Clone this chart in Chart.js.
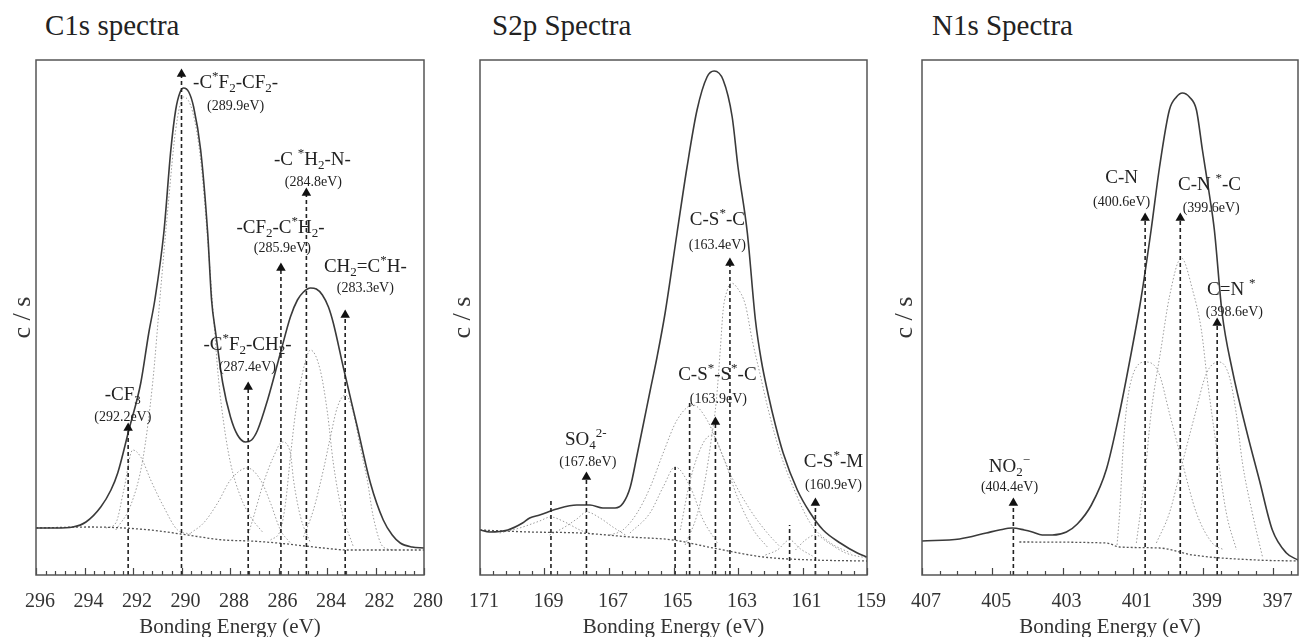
<!DOCTYPE html>
<html>
<head>
<meta charset="utf-8">
<script src="https://cdn.jsdelivr.net/npm/chart.js@4.4.1/dist/chart.umd.min.js"></script>
<style>
  html, body { margin: 0; padding: 0; background: #fff; overflow: hidden; }
  #wrap { position: relative; width: 1299px; height: 637px; overflow: hidden; }
  canvas { position: absolute; top: 0; }
  .ttl { position: absolute; top: 9px; font: 29px "Liberation Serif", serif; color: #222; line-height: 32px; white-space: nowrap; }
</style>
</head>
<body>
<div id="wrap">
  <div class="ttl" style="left:45px">C1s spectra</div>
  <div class="ttl" style="left:492px">S2p Spectra</div>
  <div class="ttl" style="left:932px">N1s Spectra</div>
  <canvas id="c1s" width="460" height="640" style="left:0"></canvas>
  <canvas id="s2p" width="460" height="640" style="left:440px"></canvas>
  <canvas id="n1s" width="429" height="640" style="left:870px"></canvas>
</div>
<script>
// ---------- C1s ----------
const c1sTicks = [296, 294, 292, 290, 288, 286, 284, 282, 280];
const c1sEnvelope = [[296.0,47],[295.18,47],[294.48,48],[293.94,53],[293.33,68],[292.91,85],[292.63,102],[292.17,145],[291.68,192],[291.35,242],[291.10,275],[290.73,342],[290.44,425],[290.24,465],[290.07,482],[289.91,487],[289.70,483],[289.50,468],[289.21,425],[288.92,342],[288.76,275],[288.59,242],[288.30,192],[287.98,158],[287.69,140],[287.36,133],[287.11,135],[286.86,145],[286.45,175],[285.92,222],[285.51,258],[285.22,275],[284.97,283],[284.68,287],[284.44,286],[284.19,280],[283.94,268],[283.74,252],[283.33,208],[282.75,148],[282.21,92],[281.68,55],[281.31,40],[280.98,32],[280.49,28],[280.0,27]];
const c1sBackground = [[296.0,47],[293.74,48],[291.27,45],[290.03,41],[288.26,35],[287.15,34],[286.04,32],[284.15,27],[283.16,25],[281.39,25],[280.0,25]];
const c1sCF3 = [[293.12,47],[292.71,52],[292.38,85],[292.01,125],[291.68,118],[291.27,95],[290.73,68],[290.16,45],[289.62,41]];
const c1sCF2CF2 = [[292.71,45],[292.09,70],[291.60,115],[291.19,192],[290.86,285],[290.53,375],[290.24,445],[289.91,478],[289.54,463],[289.21,415],[288.92,335],[288.67,255],[288.47,195],[288.26,152],[287.98,112],[287.56,78],[287.15,58],[286.66,43]];
const c1sCF2CH2 = [[289.62,42],[289.09,52],[288.51,72],[287.98,95],[287.28,107],[286.74,95],[286.33,72],[285.92,45],[285.51,32]];
const c1sCH2CF2 = [[287.28,38],[287.03,58],[286.62,92],[286.21,118],[285.84,133],[285.51,122],[285.38,95],[285.09,58],[284.68,32]];
const c1sCH2N = [[286.33,35],[285.92,45],[285.71,72],[285.51,118],[285.30,162],[285.01,202],[284.68,225],[284.28,205],[283.98,162],[283.74,112],[283.37,62],[282.91,28]];
const c1sCHeqC = [[284.97,38],[284.56,65],[284.15,105],[283.86,138],[283.57,168],[283.24,180],[282.91,162],[282.63,128],[282.34,95],[282.09,58],[281.68,28],[281.19,25]];
const c1sMarkerE = [292.2, 290.0, 287.25, 285.9, 284.85, 283.25];
const c1sMarkerI = [147, 501, 188, 307, 382, 260];
const c1sMarkerTri = [true, true, true, true, true, true];
const c1sLabels = [
  ["-C^*F_2-CF_2-", 287.77, 492], ["(289.9eV)", 287.77, 469],
  ["-C ^*H_2-N-", 284.60, 415], ["(284.8eV)", 284.56, 393],
  ["-CF_2-C^*H_2-", 285.92, 347], ["(285.9eV)", 285.84, 327],
  ["CH_2=C^*H-", 282.42, 308], ["(283.3eV)", 282.42, 287],
  ["-C^*F_2-CH_2-", 287.28, 230], ["(287.4eV)", 287.28, 208],
  ["-CF_3", 292.42, 180], ["(292.2eV)", 292.42, 158]
];

// ---------- S2p ----------
const s2pTicks = [171, 169, 167, 165, 163, 161, 159];
const s2pEnvelope = [[171.0,45],[170.70,43],[170.14,45],[169.68,52],[169.46,57],[169.15,60],[168.62,66],[168.00,70],[167.59,70],[167.19,67],[166.81,67],[166.56,72],[166.34,88],[166.13,120],[165.94,150],[165.72,185],[165.51,218],[165.26,262],[164.89,342],[164.58,408],[164.27,465],[163.96,498],[163.74,504],[163.46,495],[163.18,458],[163.00,408],[162.71,342],[162.46,255],[162.28,215],[162.06,180],[161.84,150],[161.60,122],[161.16,85],[160.76,62],[160.36,45],[159.83,32],[159.30,22],[159.0,18]];
const s2pBackground = [[171.0,45],[169.46,43],[167.90,42],[166.34,38],[165.01,35],[163.77,27],[162.21,18],[160.66,15],[159.0,14]];
const s2pSO4a = [[170.39,42],[169.77,47],[169.15,54],[168.81,58],[168.37,53],[167.90,45],[167.44,40]];
const s2pSO4b = [[168.84,40],[168.37,48],[168.00,56],[167.69,63],[167.28,57],[166.88,48],[166.44,39]];
const s2pPeak165 = [[166.35,42],[165.73,62],[165.32,88],[164.95,108],[164.48,88],[164.08,55],[163.64,32]];
const s2pPeak1645 = [[166.97,40],[166.57,45],[166.13,62],[165.72,88],[165.32,122],[164.89,155],[164.39,170],[163.96,155],[163.55,125],[163.15,95],[162.62,65],[162.09,42],[161.69,28]];
const s2pSS = [[164.79,45],[164.48,95],[164.08,132],[163.80,140],[163.46,118],[163.02,78],[162.52,45],[162.09,28]];
const s2pCSC = [[164.64,30],[164.27,60],[164.02,95],[163.83,135],[163.67,175],[163.55,225],[163.46,265],[163.33,285],[163.21,292],[163.02,287],[162.77,270],[162.56,235],[162.31,200],[162.06,165],[161.69,122],[161.16,78],[160.76,52],[160.13,32],[159.51,22]];
const s2pPeak1614 = [[162.15,20],[161.78,25],[161.40,35],[161.06,26],[160.69,19]];
const s2pCSM = [[161.22,25],[160.91,35],[160.60,40],[160.19,32],[159.66,22],[159.0,17]];
const s2pMarkerE = [168.8, 167.7, 164.95, 164.5, 163.7, 163.25, 161.4, 160.6];
const s2pMarkerI = [77, 98, 108, 172, 153, 312, 50, 72];
const s2pMarkerTri = [false, true, false, false, true, true, false, true];
const s2pLabels = [
  ["SO_4^{2-}", 167.72, 135], ["(167.8eV)", 167.66, 113],
  ["C-S^*-S^*-C", 163.64, 200], ["(163.9eV)", 163.61, 176],
  ["C-S^*-M", 160.04, 113], ["(160.9eV)", 160.04, 90],
  ["C-S^*-C", 163.64, 355], ["(163.4eV)", 163.64, 330]
];

// ---------- N1s ----------
const n1sTicks = [407, 405, 403, 401, 399, 397];
const n1sEnvelope = [[407.0,34],[405.93,36],[405.17,42],[404.80,45],[404.43,47],[404.09,45],[403.86,43],[403.58,40],[403.29,40],[402.89,43],[402.58,51],[402.18,70],[401.75,106],[401.38,162],[401.10,212],[400.76,278],[400.48,345],[400.24,408],[399.96,465],[399.76,478],[399.59,482],[399.39,478],[399.19,465],[399.02,425],[398.82,380],[398.68,345],[398.46,262],[398.17,205],[397.77,145],[397.40,95],[397.03,45],[396.63,22],[396.3,15]];
const n1sBackground = [[404.23,33],[401.75,32],[401.38,28],[400.24,27],[399.30,20],[397.48,15],[396.3,14]];
const n1sCN = [[401.45,30],[401.37,65],[401.28,125],[401.17,170],[400.97,203],[400.63,213],[400.26,202],[399.96,162],[399.59,112],[399.19,62],[398.74,32],[398.40,25]];
const n1sCNC = [[400.90,32],[400.67,95],[400.48,162],[400.19,228],[399.96,278],[399.62,317],[399.30,285],[399.05,245],[398.88,195],[398.62,128],[398.34,62],[398.05,25]];
const n1sCeqN = [[400.33,32],[399.96,62],[399.59,112],[399.25,158],[398.90,202],[398.54,213],[398.25,198],[398.06,162],[397.88,112],[397.60,62],[397.31,18]];
const n1sMarkerE = [404.4, 400.65, 399.65, 398.6];
const n1sMarkerI = [72, 357, 357, 252];
const n1sMarkerTri = [true, true, true, true];
const n1sLabels = [
  ["NO_2^{\u2212}", 404.51, 108], ["(404.4eV)", 404.51, 88],
  ["C-N", 401.32, 397], ["(400.6eV)", 401.32, 373],
  ["C-N ^*-C", 398.82, 390], ["(399.6eV)", 398.77, 367],
  ["C=N ^*", 398.20, 285], ["(398.6eV)", 398.11, 263]
];

const SERIF = '"Liberation Serif", "Times New Roman", serif';
const pts = (arr) => arr.map(([x, y]) => ({ x, y }));
const isMajor = (majors, v) => majors.some((m) => Math.abs(m - v) < 1e-6);

function tickValues(majors, step, min, max) {
  const out = [];
  const start = Math.max(...majors);
  for (let k = 0; ; k++) {
    const v = Math.round((start - k * step) * 100) / 100;
    if (v < min - 1e-9) break;
    if (v <= max + 1e-9) out.push(v);
  }
  return out;
}

function parseRich(s) {
  const out = [];
  let i = 0;
  while (i < s.length) {
    const c = s[i];
    if (c === "_" || c === "^") {
      let t;
      if (s[i + 1] === "{") {
        const j = s.indexOf("}", i);
        t = s.slice(i + 2, j);
        i = j + 1;
      } else {
        t = s[i + 1];
        i += 2;
      }
      out.push({ t, k: c === "_" ? "sub" : "sup" });
    } else {
      const last = out[out.length - 1];
      if (last && last.k === "n") last.t += c;
      else out.push({ t: c, k: "n" });
      i++;
    }
  }
  return out;
}

function drawRich(ctx, s, cx, cy, size) {
  const parts = parseRich(s);
  const font = (k) => `${k === "n" ? size : Math.round(size * 0.68)}px ${SERIF}`;
  let w = 0;
  parts.forEach((p) => {
    ctx.font = font(p.k);
    p.w = ctx.measureText(p.t).width;
    w += p.w;
  });
  let x = cx - w / 2;
  ctx.fillStyle = "#222";
  ctx.textBaseline = "middle";
  ctx.textAlign = "left";
  parts.forEach((p) => {
    ctx.font = font(p.k);
    const dy = p.k === "sub" ? size * 0.3 : p.k === "sup" ? -size * 0.35 : 0;
    ctx.fillText(p.t, x, cy + dy);
    x += p.w;
  });
}

// box, inward tick marks and peak labels
const framePlugin = {
  id: "frame",
  afterDraw(chart, args, opts) {
    const { ctx, chartArea: a } = chart;
    const x = chart.scales.x;
    const y = chart.scales.y;
    ctx.save();
    ctx.strokeStyle = "#444";
    ctx.lineWidth = 1.2;
    x.ticks.forEach((t) => {
      const px = Math.round(x.getPixelForValue(t.value)) + 0.5;
      const len = isMajor(opts.majors, t.value) ? 7 : 4;
      ctx.beginPath();
      ctx.moveTo(px, a.bottom);
      ctx.lineTo(px, a.bottom - len);
      ctx.stroke();
    });
    ctx.strokeStyle = "#555";
    ctx.lineWidth = 1.5;
    ctx.strokeRect(a.left, a.top, a.right - a.left, a.bottom - a.top);
    opts.labels.forEach(([text, e, i]) => {
      const size = text[0] === "(" ? 14 : 19;
      drawRich(ctx, text, x.getPixelForValue(e), y.getPixelForValue(i), size);
    });
    ctx.restore();
  }
};

function buildChart(id, p) {
  const datasets = [];
  const tri = p.markerE.map((e, k) => ({ x: e, y: p.markerI[k] })).filter((_, k) => p.markerTri[k]);
  datasets.push({
    data: tri, showLine: false, pointStyle: "triangle", pointRadius: 5.5,
    pointBackgroundColor: "#111", pointBorderColor: "#111", pointBorderWidth: 0
  });
  p.markerE.forEach((e, k) => {
    datasets.push({
      data: [{ x: e, y: 0 }, { x: e, y: p.markerI[k] }], showLine: true,
      borderColor: "#222", borderWidth: 1.6, borderDash: [4, 3], pointRadius: 0
    });
  });
  datasets.push({
    data: pts(p.envelope), showLine: true, borderColor: "#3a3a3a", borderWidth: 1.6,
    cubicInterpolationMode: "monotone", pointRadius: 0
  });
  datasets.push({
    data: pts(p.background), showLine: true, borderColor: "#555", borderWidth: 1.3,
    borderDash: [2, 2], cubicInterpolationMode: "monotone", pointRadius: 0
  });
  p.components.forEach((c) => {
    datasets.push({
      data: pts(c), showLine: true, borderColor: "#9c9c9c", borderWidth: 1,
      borderDash: [1.5, 2], cubicInterpolationMode: "monotone", pointRadius: 0
    });
  });

  const ticks = tickValues(p.majors, p.step, p.min, p.max);

  return new Chart(document.getElementById(id), {
    type: "scatter",
    data: { datasets },
    options: {
      responsive: false,
      animation: false,
      devicePixelRatio: 1,
      layout: { autoPadding: false, padding: { top: 60, right: p.padRight, bottom: 0, left: 0 } },
      plugins: {
        legend: { display: false },
        tooltip: { enabled: false },
        frame: { majors: p.majors, labels: p.labels }
      },
      elements: { point: { hoverRadius: 0 } },
      scales: {
        x: {
          type: "linear", reverse: true, min: p.min, max: p.max,
          afterBuildTicks: (s) => { s.ticks = ticks.map((v) => ({ value: v })); },
          afterFit: (s) => {
            s.height = 65;
            s.paddingLeft = 0;
            s.paddingRight = 0;
          },
          grid: { display: false, drawTicks: false },
          border: { display: false },
          ticks: {
            autoSkip: false, maxRotation: 0, padding: 15, labelOffset: 4, color: "#333",
            font: { family: SERIF, size: 20 },
            callback: (v) => (isMajor(p.majors, v) ? String(v) : "")
          },
          title: { display: true, text: "Bonding Energy (eV)", color: "#333", font: { family: SERIF, size: 21 }, padding: 0 }
        },
        y: {
          min: 0, max: 515,
          afterFit: (s) => { s.width = p.yWidth; },
          ticks: { display: false },
          grid: { display: false },
          border: { display: false },
          title: { display: true, text: "c / s", color: "#333", font: { family: SERIF, size: 26 }, padding: { top: p.yTitlePad, bottom: 0 } }
        }
      }
    },
    plugins: [framePlugin]
  });
}

buildChart("c1s", {
  majors: c1sTicks, step: 0.4, min: 280, max: 296, padRight: 36, yWidth: 36, yTitlePad: 7.4,
  envelope: c1sEnvelope, background: c1sBackground,
  components: [c1sCF3, c1sCF2CF2, c1sCF2CH2, c1sCH2CF2, c1sCH2N, c1sCHeqC],
  markerE: c1sMarkerE, markerI: c1sMarkerI, markerTri: c1sMarkerTri, labels: c1sLabels
});
buildChart("s2p", {
  majors: s2pTicks, step: 0.4, min: 159, max: 171, padRight: 33, yWidth: 40, yTitlePad: 7.4,
  envelope: s2pEnvelope, background: s2pBackground,
  components: [s2pSO4a, s2pSO4b, s2pPeak165, s2pPeak1645, s2pSS, s2pCSC, s2pPeak1614, s2pCSM],
  markerE: s2pMarkerE, markerI: s2pMarkerI, markerTri: s2pMarkerTri, labels: s2pLabels
});
buildChart("n1s", {
  majors: n1sTicks, step: 0.5, min: 396.3, max: 407, padRight: 1, yWidth: 52, yTitlePad: 19.4,
  envelope: n1sEnvelope, background: n1sBackground,
  components: [n1sCN, n1sCNC, n1sCeqN],
  markerE: n1sMarkerE, markerI: n1sMarkerI, markerTri: n1sMarkerTri, labels: n1sLabels
});
</script>
</body>
</html>
